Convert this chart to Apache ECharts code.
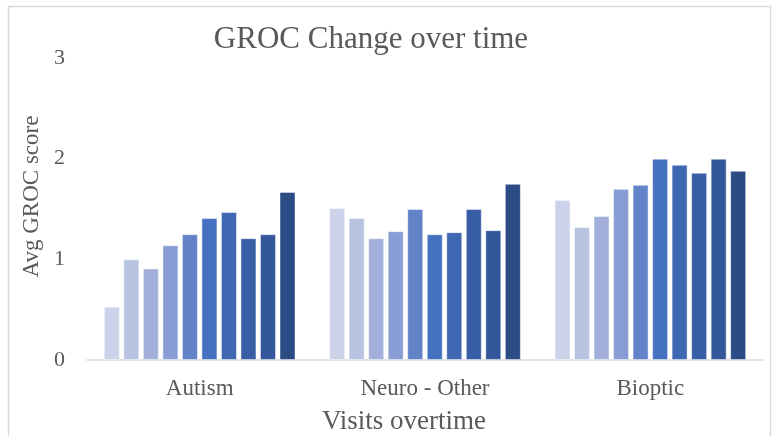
<!DOCTYPE html>
<html>
<head>
<meta charset="utf-8">
<script src="https://cdn.jsdelivr.net/npm/echarts@6/dist/echarts.min.js"></script>
<style>html,body{margin:0;padding:0;background:#fff}#c{width:774px;height:436px}</style>
</head>
<body>
<div id="c"></div>
<script>
const categories = ["Autism", "Neuro - Other", "Bioptic"];
const seriesNames = ["Visit 1","Visit 2","Visit 3","Visit 4","Visit 5","Visit 6","Visit 7","Visit 8","Visit 9","Visit 10"];
const autism     = [0.53, 1.00, 0.91, 1.14, 1.25, 1.41, 1.47, 1.21, 1.25, 1.67];
const neuroOther = [1.51, 1.41, 1.21, 1.28, 1.50, 1.25, 1.27, 1.50, 1.29, 1.75];
const bioptic    = [1.59, 1.32, 1.43, 1.70, 1.74, 2.00, 1.94, 1.86, 2.00, 1.88];
const yTicks = [0, 1, 2, 3];
const colors = ["#CCD2E9","#B8C3E2","#A2AFDA","#889DD3","#6283C8","#4472C0","#3E68B2","#385EA6","#33579A","#2B4B84"];

const groups = [autism, neuroOther, bioptic];
const series = seriesNames.map((n, i) => ({
  name: n,
  type: 'bar',
  data: groups.map(g => g[i]),
  barWidth: 16,
  barGap: '22%',
  itemStyle: { color: colors[i], borderColor: 'rgba(255,255,255,0.45)', borderWidth: 1 }
}));

const font = '"Liberation Serif", "Times New Roman", serif';
const chart = echarts.init(document.getElementById('c'), null, { renderer: 'canvas' });
chart.setOption({
  animation: false,
  backgroundColor: '#fff',
  textStyle: { fontFamily: font },
  title: {
    text: 'GROC Change over time',
    left: 366, top: 19, textAlign: 'center',
    textStyle: { fontFamily: font, fontSize: 31, fontWeight: 'normal', color: '#595959' }
  },
  graphic: [{
    type: 'rect', shape: { x: 8.5, y: 6.5, width: 762, height: 460 },
    style: { fill: 'none', stroke: '#d9d9d9', lineWidth: 1.5 }, silent: true, z: -1
  }],
  grid: { left: 87, right: 11, top: 58, bottom: 76, containLabel: false, outerBoundsMode: 'none' },
  xAxis: {
    type: 'category', data: categories,
    name: 'Visits overtime', nameLocation: 'middle', nameGap: 48,
    nameTextStyle: { fontFamily: font, fontSize: 27, color: '#595959', padding: [0, 42, 0, 0] },
    axisLine: { lineStyle: { color: '#d9d9d9', width: 1.5 } },
    axisTick: { show: false },
    axisLabel: { fontFamily: font, fontSize: 23, color: '#595959', margin: 17 }
  },
  yAxis: {
    type: 'value', min: yTicks[0], max: yTicks[yTicks.length - 1], interval: 1,
    name: 'Avg GROC score', nameLocation: 'middle', nameGap: 41,
    nameTextStyle: { fontFamily: font, fontSize: 23, color: '#595959', padding: [0, 0, 0, 25] },
    axisLine: { show: false }, axisTick: { show: false },
    splitLine: { show: false },
    axisLabel: { fontFamily: font, fontSize: 22, color: '#595959', margin: 22 }
  },
  series: series
});
</script>
</body>
</html>
